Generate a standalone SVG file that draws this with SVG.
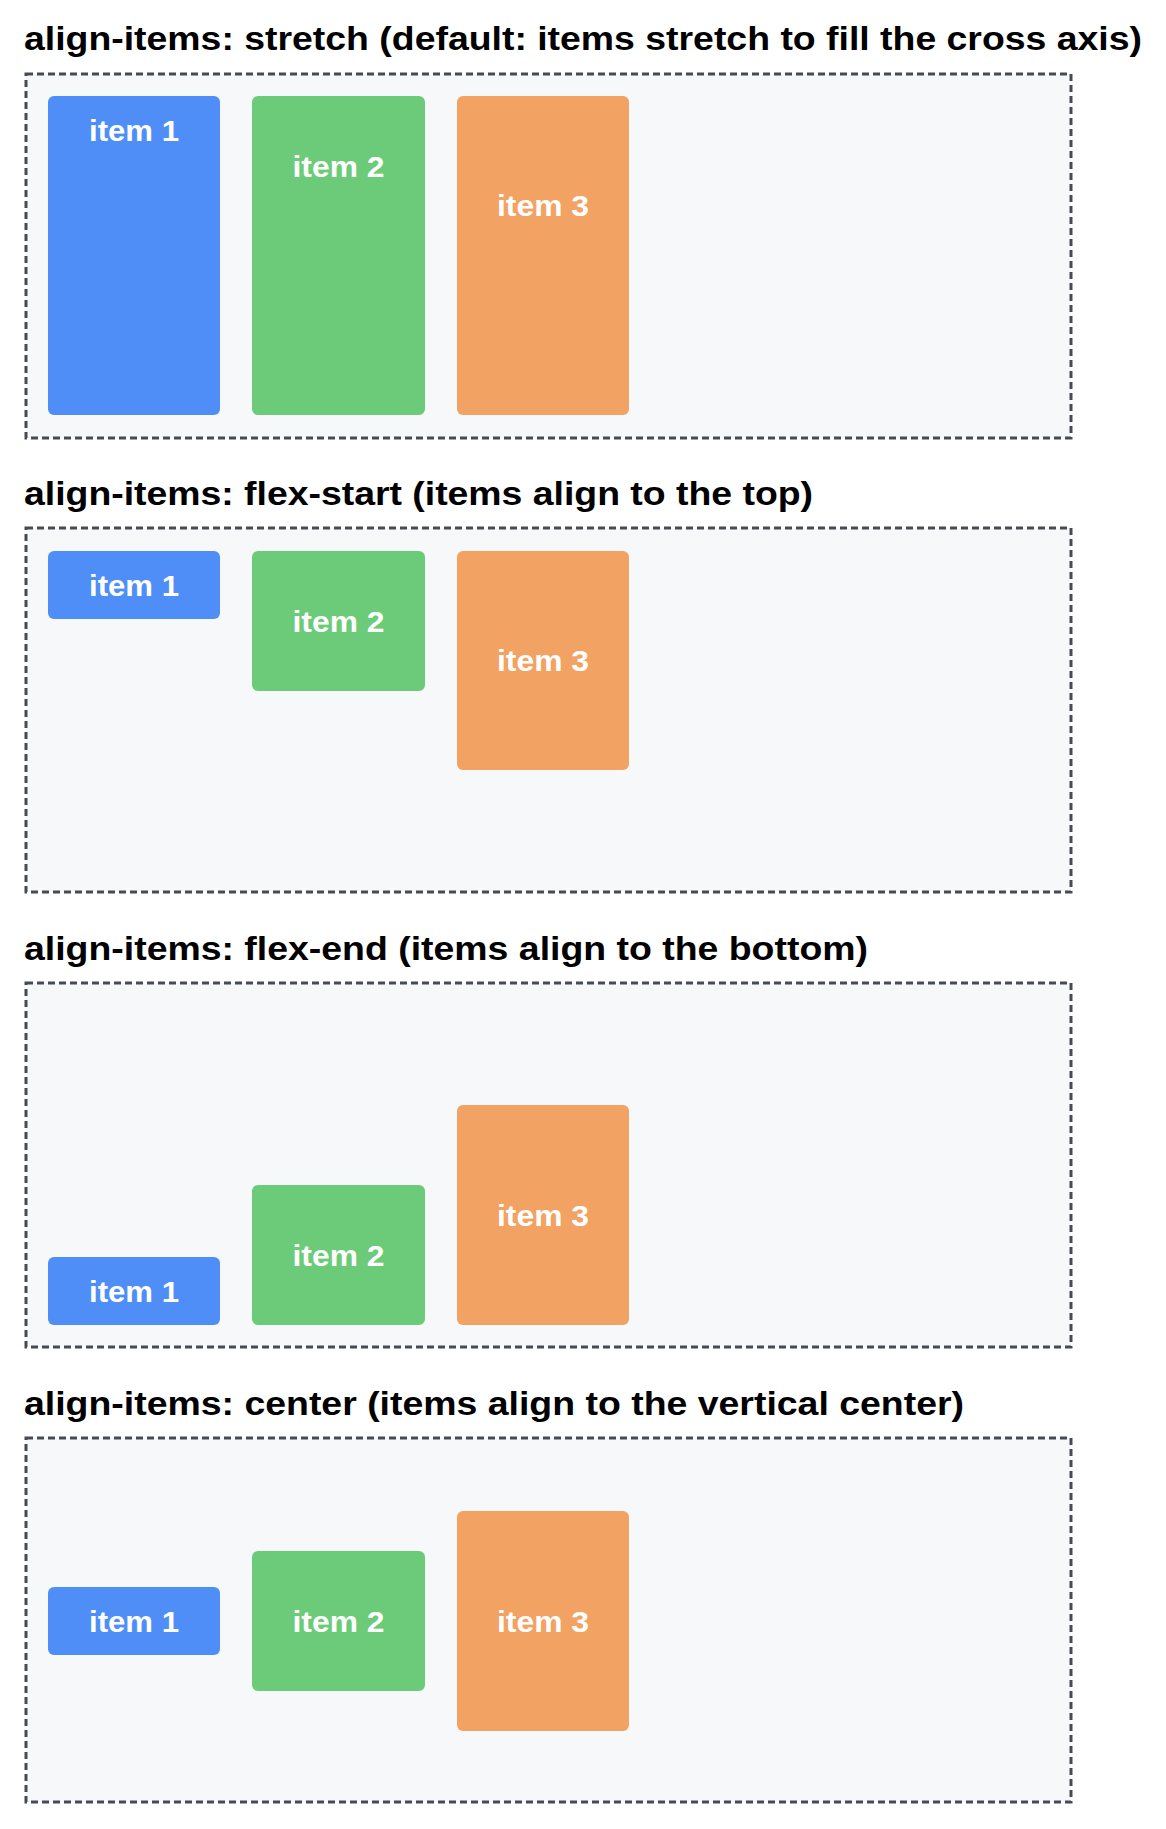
<svg xmlns="http://www.w3.org/2000/svg" width="1166" height="1829" viewBox="0 0 1166 1829">
<style>
.t{font-family:"Liberation Sans",Arial,sans-serif;font-weight:bold;font-size:34px;fill:#000}
.box{fill:#f7f8fa;stroke:#464b53;stroke-width:3;stroke-dasharray:7 4}
.l{font-family:"Liberation Sans",Arial,sans-serif;font-weight:bold;font-size:30px;fill:#fff;text-anchor:middle;dominant-baseline:central}
.b{fill:#4f8ef7}.g{fill:#6ccb78}.o{fill:#f2a262}
</style>
<rect width="1166" height="1829" fill="#fff"/>
<g id="s1">
<text class="t" x="24" y="50" textLength="1118" lengthAdjust="spacingAndGlyphs">align-items: stretch (default: items stretch to fill the cross axis)</text>
<rect class="box" x="26" y="74" width="1045" height="364"/>
<g id="s1i1"><rect class="b" x="48" y="96" width="172" height="319" rx="6"/><text class="l" x="134" y="130" textLength="90" lengthAdjust="spacingAndGlyphs">item 1</text></g>
<g id="s1i2"><rect class="g" x="252" y="96" width="173" height="319" rx="6"/><text class="l" x="338.5" y="166" textLength="92" lengthAdjust="spacingAndGlyphs">item 2</text></g>
<g id="s1i3"><rect class="o" x="457" y="96" width="172" height="319" rx="6"/><text class="l" x="543" y="205" textLength="92" lengthAdjust="spacingAndGlyphs">item 3</text></g>
</g>
<g id="s2">
<text class="t" x="24" y="505" textLength="789" lengthAdjust="spacingAndGlyphs">align-items: flex-start (items align to the top)</text>
<rect class="box" x="26" y="528" width="1045" height="364"/>
<g id="s2i1"><rect class="b" x="48" y="551" width="172" height="68" rx="6"/><text class="l" x="134" y="585" textLength="90" lengthAdjust="spacingAndGlyphs">item 1</text></g>
<g id="s2i2"><rect class="g" x="252" y="551" width="173" height="140" rx="6"/><text class="l" x="338.5" y="621" textLength="92" lengthAdjust="spacingAndGlyphs">item 2</text></g>
<g id="s2i3"><rect class="o" x="457" y="551" width="172" height="219" rx="6"/><text class="l" x="543" y="660.5" textLength="92" lengthAdjust="spacingAndGlyphs">item 3</text></g>
</g>
<g id="s3">
<text class="t" x="24" y="960" textLength="844" lengthAdjust="spacingAndGlyphs">align-items: flex-end (items align to the bottom)</text>
<rect class="box" x="26" y="983" width="1045" height="364"/>
<g id="s3i1"><rect class="b" x="48" y="1257" width="172" height="68" rx="6"/><text class="l" x="134" y="1291" textLength="90" lengthAdjust="spacingAndGlyphs">item 1</text></g>
<g id="s3i2"><rect class="g" x="252" y="1185" width="173" height="140" rx="6"/><text class="l" x="338.5" y="1255" textLength="92" lengthAdjust="spacingAndGlyphs">item 2</text></g>
<g id="s3i3"><rect class="o" x="457" y="1105" width="172" height="220" rx="6"/><text class="l" x="543" y="1215" textLength="92" lengthAdjust="spacingAndGlyphs">item 3</text></g>
</g>
<g id="s4">
<text class="t" x="24" y="1415" textLength="940" lengthAdjust="spacingAndGlyphs">align-items: center (items align to the vertical center)</text>
<rect class="box" x="26" y="1438" width="1045" height="364"/>
<g id="s4i1"><rect class="b" x="48" y="1587" width="172" height="68" rx="6"/><text class="l" x="134" y="1621" textLength="90" lengthAdjust="spacingAndGlyphs">item 1</text></g>
<g id="s4i2"><rect class="g" x="252" y="1551" width="173" height="140" rx="6"/><text class="l" x="338.5" y="1621" textLength="92" lengthAdjust="spacingAndGlyphs">item 2</text></g>
<g id="s4i3"><rect class="o" x="457" y="1511" width="172" height="220" rx="6"/><text class="l" x="543" y="1621" textLength="92" lengthAdjust="spacingAndGlyphs">item 3</text></g>
</g>
</svg>
